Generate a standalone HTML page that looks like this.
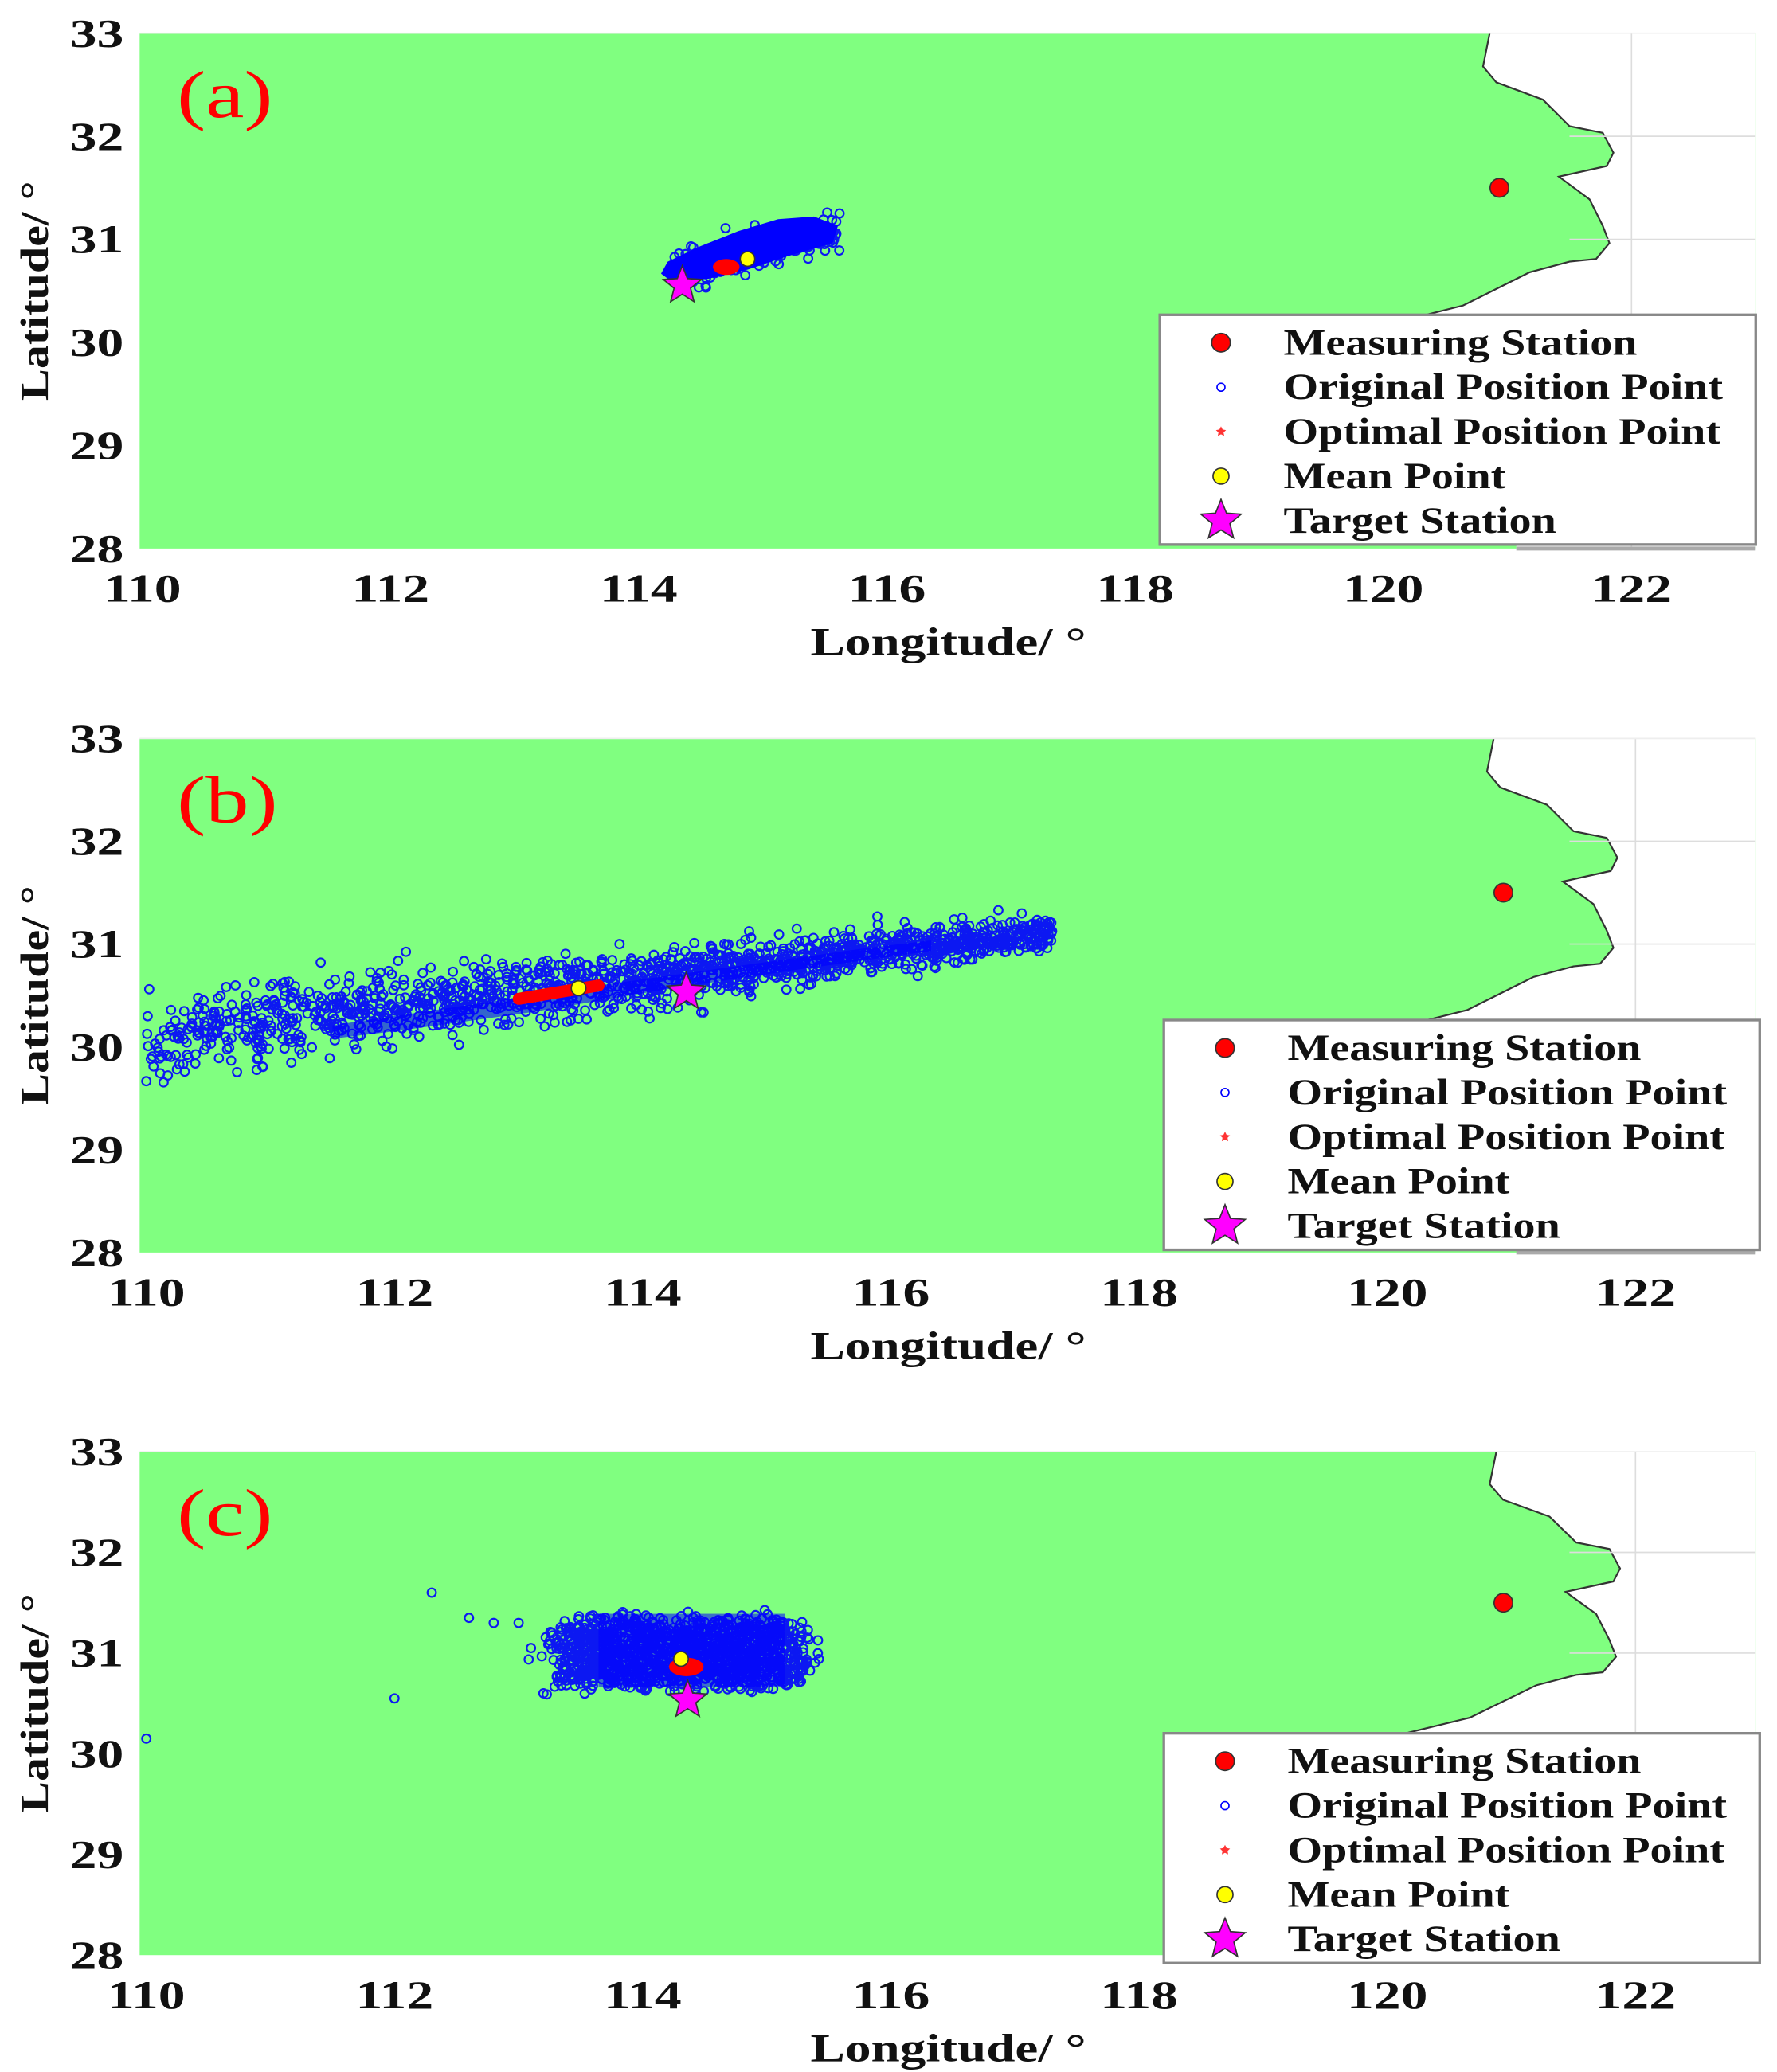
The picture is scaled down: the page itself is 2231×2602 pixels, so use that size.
<!DOCTYPE html>
<html><head><meta charset="utf-8"><style>
html,body{margin:0;padding:0;background:#fff;}
svg{display:block;}
text{font-family:"Liberation Serif",serif;font-weight:bold;fill:#111;}
</style></head><body>
<svg id="s" width="2231" height="2602" viewBox="0 0 1336 1560" preserveAspectRatio="none" xmlns="http://www.w3.org/2000/svg"></svg>
<script>
var NS="http://www.w3.org/2000/svg",S=document.getElementById('s');
function el(t,a,p,txt){var e=document.createElementNS(NS,t);for(var k in a)e.setAttribute(k,a[k]);if(txt!=null)e.textContent=txt;(p||S).appendChild(e);return e;}
var seed=7;function rnd(){seed=(seed*16807)%2147483647;return seed/2147483647;}
function gauss(){var u=rnd()||1e-9,v=rnd();return Math.sqrt(-2*Math.log(u))*Math.cos(2*Math.PI*v);}
function star(cx,cy,R,r){var p=[];for(var i=0;i<10;i++){var a=-Math.PI/2+i*Math.PI/5,rr=i%2?r:R;p.push((cx+rr*Math.cos(a)).toFixed(1)+','+(cy+rr*Math.sin(a)).toFixed(1));}return p.join(' ');}
var texts=[];
function tx(a,p,s,k){var e=el('text',a,p,s);texts.push([e,k||1.3]);return e;}
var panels=[
 {t:25,b:413,x0:107,lab:'(a)',dx:0},
 {t:556,b:943,x0:110,lab:'(b)',dx:3},
 {t:1093,b:1472,x0:110,lab:'(c)',dx:5}];
panels.forEach(function(P,idx){
 var L=105,R=1320,T=P.t,B=P.b,dy=(B-T)/5,dxp=93.3,dx=P.dx;
 function X(lon){return P.x0+(lon-110)*dxp;}
 function Y(lat){return T+(33-lat)*dy;}
 var g=el('g',{});
 el('rect',{x:L,y:T,width:R-L,height:B-T,fill:'#80ff80'},g);
 var c=[[1120,0],[1115,25],[1125,37],[1160,50],[1180,70],[1205,75],[1213,90],[1208,100],[1172,108],[1195,125],[1205,145],[1210,158],[1200,170],[1180,172],[1150,180],[1100,205],[1060,215],[1020,225],[1140,225],[1140,388]];
 var pts=c.map(function(q){return (q[0]+dx)+','+(T+q[1]*(B-T)/388)}).join(' ');
 el('polygon',{points:pts+' '+R+','+B+' '+R+','+T,fill:'#fff'},g);
 el('polyline',{points:c.slice(0,18).map(function(q){return (q[0]+dx)+','+(T+q[1]*(B-T)/388)}).join(' '),fill:'none',stroke:'#333','stroke-width':1.3},g);
 [32,31].forEach(function(la){el('line',{x1:1180,x2:R,y1:Y(la),y2:Y(la),stroke:'#ddd','stroke-width':1},g);});
 el('line',{x1:X(122),x2:X(122),y1:T,y2:B,stroke:'#ddd','stroke-width':1},g);
 el('line',{x1:L,x2:R,y1:T,y2:T,stroke:'#eee','stroke-width':1},g);
 el('line',{x1:1140,x2:R,y1:B,y2:B,stroke:'#aaa','stroke-width':3},g);
 var pts2=[];
 var sg=el('g',{fill:'none',stroke:'#0000ff','stroke-width':1.3,opacity:0.9},g);
 if(idx==0){
  el('polygon',{points:'497,206 502,197 525,186 555,174 585,165 612,163 630,170 626,183 592,193 562,203 532,210 505,212',fill:'#0000ff'},g);
  for(var i=0;i<200;i++){var u=(rnd()-0.5)*1.35,v=gauss()*0.09;pts2.push([114.95+u,30.88+u*0.28+v]);}
 }
 if(idx==1){for(var i=0;i<1600;i++){var u=rnd();u=Math.pow(u,0.85);var lon=110+u*7.3,lat=30.12+(lon-110)*0.135+gauss()*(0.2-0.12*u);pts2.push([lon,lat]);}
  el('polygon',{points:'250,772 350,757 450,742 550,728 650,714 700,708 700,716 600,730 500,745 400,762 300,776 250,782',fill:'#0000ff',opacity:0.6},g);}
 if(idx==2){
  el('rect',{x:450,y:1215,width:140,height:55,fill:'#0000ff',opacity:0.55},g);
  for(var i=0;i<1400;i++){var lon=114.3+(rnd()-0.5)*1.9+gauss()*0.1,lat=31.0+(rnd()-0.5)*0.6+gauss()*0.06;pts2.push([lon,lat]);}
  [[112.3,31.6],[112.6,31.35],[112.8,31.3],[113,31.3],[112,30.55],[113.2,30.6],[113.3,31.1],[110,30.15],[113.1,31.05]].forEach(function(q){pts2.push(q)});}
 pts2.forEach(function(q){var x=X(q[0]),y=Y(q[1]);if(x>=L-3&&x<=R&&y>=T&&y<=B)el('circle',{cx:x.toFixed(1),cy:y.toFixed(1),r:3.2},sg);});
 if(idx==0){el('ellipse',{cx:546,cy:T+176,rx:10,ry:6,fill:'#f00'},g);el('circle',{cx:562,cy:T+170,r:5.5,fill:'#ff0',stroke:'#333'},g);el('polygon',{points:star(513,T+190,15,6.5),fill:'#f0f',stroke:'#333'},g);}
 if(idx==1){el('line',{x1:390,y1:T+196,x2:450,y2:T+186,stroke:'#f00','stroke-width':9,'stroke-linecap':'round'},g);el('circle',{cx:435,cy:T+188,r:5.5,fill:'#ff0',stroke:'#333'},g);el('polygon',{points:star(516,T+191,15,6.5),fill:'#f0f',stroke:'#333'},g);}
 if(idx==2){el('ellipse',{cx:516,cy:T+162,rx:13,ry:7,fill:'#f00'},g);el('circle',{cx:512,cy:T+156,r:5.5,fill:'#ff0',stroke:'#333'},g);el('polygon',{points:star(517,T+187,15,6.5),fill:'#f0f',stroke:'#333'},g);}
 el('circle',{cx:X(121)-6,cy:Y(31.5),r:7,fill:'#f00',stroke:'#333'},g);
 tx({x:133,y:T+63,'font-size':50,style:'fill:#f00;font-weight:normal'},g,P.lab,1.3);
 for(var la=28;la<=33;la++)tx({x:93,y:Y(la)+10,'font-size':30,'text-anchor':'end'},g,la,1.35);
 for(var lo=110;lo<=122;lo+=2)tx({x:X(lo),y:B+40,'font-size':30,'text-anchor':'middle'},g,lo,1.35);
 tx({x:713,y:B+80,'font-size':30,'text-anchor':'middle'},g,'Longitude/ °',1.3);
 tx({x:0,y:0,'font-size':30,'text-anchor':'middle',transform:'translate(36,'+((T+B)/2)+') rotate(-90)'},g,'Latitude/ °',1.2);
 var lx=872+Math.min(dx,3),ly=T+212,lw=448,lh=173;
 el('rect',{x:lx,y:ly,width:lw,height:lh,fill:'#fff',stroke:'#888','stroke-width':2},g);
 var names=['Measuring Station','Original Position Point','Optimal Position Point','Mean Point','Target Station'];
 names.forEach(function(n,i){var yy=ly+21+i*33.5;
  if(i==0)el('circle',{cx:lx+46,cy:yy,r:7,fill:'#f00',stroke:'#333'},g);
  if(i==1)el('circle',{cx:lx+46,cy:yy,r:3,fill:'none',stroke:'#00f'},g);
  if(i==2)el('polygon',{points:star(lx+46,yy,4,2),fill:'#f33'},g);
  if(i==3)el('circle',{cx:lx+46,cy:yy,r:6,fill:'#ff0',stroke:'#333'},g);
  if(i==4)el('polygon',{points:star(lx+46,yy,16,7),fill:'#f0f',stroke:'#333'},g);
  tx({x:lx+93,y:yy+9,'font-size':28},g,n,1.2);});
});
texts.forEach(function(p){var e=p[0];var w=e.getComputedTextLength();if(w>0){e.setAttribute('textLength',(w*p[1]).toFixed(1));e.setAttribute('lengthAdjust','spacingAndGlyphs');}});
</script>
</body></html>
